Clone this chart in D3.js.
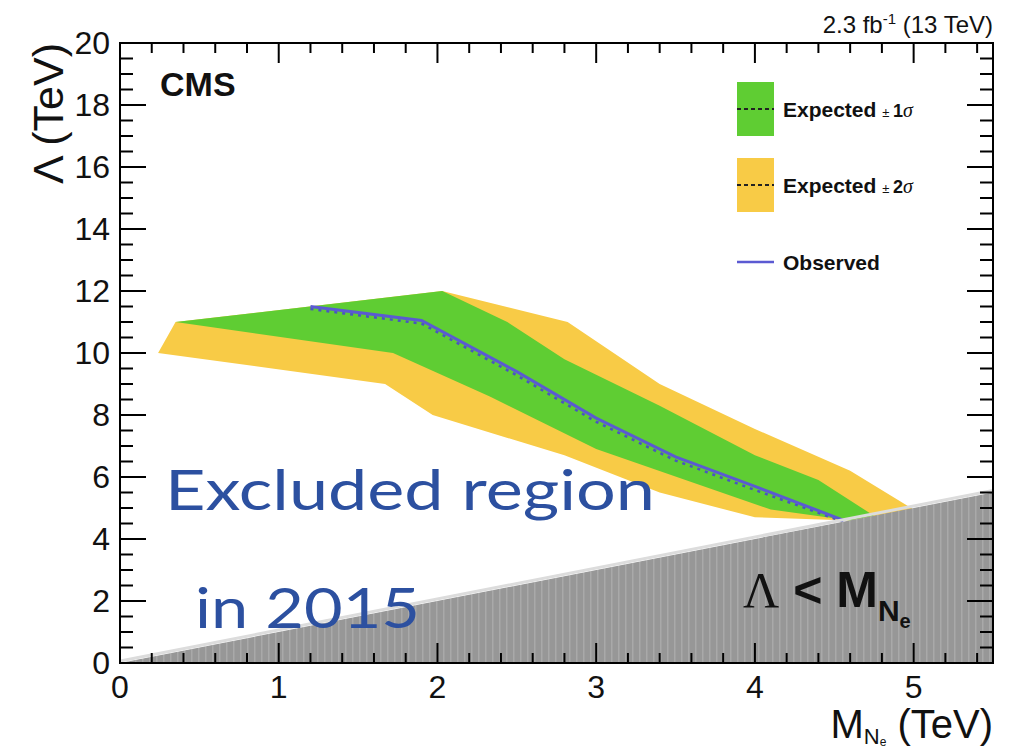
<!DOCTYPE html>
<html>
<head>
<meta charset="utf-8">
<style>
  body { margin: 0; background: white; }
  svg text { font-family: "Liberation Sans", Arial, sans-serif; }
  .frame { fill: none; stroke: black; stroke-width: 2; }
  .tick { stroke: black; stroke-width: 2; }
  .ticklab { font-size: 32px; fill: #111; }
  .leg { font-size: 21px; font-weight: bold; fill: #111; }
  .hand { font-family: "Lato", "Noto Sans", sans-serif; fill: #2c50a0; font-size: 56px; }
</style>
</head>
<body>
<div id="plot"></div>
<script src="https://cdn.jsdelivr.net/npm/d3@7"></script>
<script>

//////////////////// data ////////////////////
// expected +-2 sigma band (M_Ne, Lambda) in TeV
let band2Upper = [[0.35, 11.0], [2.03, 12.0], [2.82, 11.0], [3.4, 9.0], [4.0, 7.55], [4.6, 6.2], [5.0, 4.95]];
let band2Lower = [[0.24, 10.0], [1.67, 9.0], [1.97, 8.0], [2.8, 6.7], [3.4, 5.5], [4.0, 4.7], [4.6, 4.6]];
// expected +-1 sigma band
let band1Upper = [[0.35, 11.0], [2.03, 12.0], [2.44, 11.0], [2.8, 9.8], [3.4, 8.3], [4.0, 6.7], [4.4, 5.9], [4.75, 4.75]];
let band1Lower = [[0.35, 11.0], [1.72, 10.0], [2.33, 8.6], [3.0, 6.9], [4.1, 4.95], [4.6, 4.6]];
// limits
let massPoints = [1.2, 1.9, 2.5, 3.0, 3.5, 4.0, 4.56];
let observed = [11.5, 11.05, 9.4, 7.9, 6.65, 5.7, 4.6];
let expected = [11.42, 10.95, 9.28, 7.78, 6.53, 5.58, 4.55];

let xTicks = [0, 1, 2, 3, 4, 5];
let yTicks = [0, 2, 4, 6, 8, 10, 12, 14, 16, 18, 20];

//////////////////// layout ////////////////////
let W = 1012, H = 752;
let L = 120, R = 993, T = 43, B = 663;

let x = d3.scaleLinear().domain([0, 5.5]).range([L, R]);
let y = d3.scaleLinear().domain([0, 20]).range([B, T]);

let svg = d3.select('#plot').append('svg')
    .attr('width', W)
    .attr('height', H);

let defs = svg.append('defs');
defs.append('clipPath').attr('id', 'clip')
  .append('rect').attr('x', L).attr('y', T).attr('width', R - L).attr('height', B - T);

let stripes = defs.append('pattern')
    .attr('id', 'stripes')
    .attr('patternUnits', 'userSpaceOnUse')
    .attr('width', 7).attr('height', 10);
stripes.append('rect').attr('width', 7).attr('height', 10).attr('fill', '#979797');
stripes.append('rect').attr('x', 2).attr('width', 1.5).attr('height', 10).attr('fill', '#a9a9a9');

let area = svg.append('g').attr('clip-path', 'url(#clip)');
let line = d3.line().x(d => x(d[0])).y(d => y(d[1]));

function band(upper, lower) {
    return line(upper.concat(lower.slice().reverse())) + 'Z';
}

area.append('path').attr('d', band(band2Upper, band2Lower)).attr('fill', '#f8cb46');
area.append('path').attr('d', band(band1Upper, band1Lower)).attr('fill', '#5fcd33');

let expPts = massPoints.map((m, i) => [m, expected[i]]);
let obsPts = massPoints.map((m, i) => [m, observed[i]]);
area.append('path').attr('d', line(expPts))
    .attr('fill', 'none').attr('stroke', '#4a55c0').attr('stroke-width', 2.5)
    .attr('stroke-dasharray', '3,5');
area.append('path').attr('d', line(obsPts))
    .attr('fill', 'none').attr('stroke', '#5b5ad2').attr('stroke-width', 3);

// region Lambda < M
let diag = [[0, 0], [5.5, 5.5], [5.5, 0]];
area.append('path').attr('d', line(diag) + 'Z').attr('fill', 'url(#stripes)');
area.append('path').attr('d', line([[0, 0], [5.5, 5.5]]))
    .attr('transform', 'translate(0,-2)')
    .attr('fill', 'none').attr('stroke', '#dcdcdc').attr('stroke-width', 3);

//////////////////// axes ////////////////////
svg.append('rect').classed('frame', true)
    .attr('x', L).attr('y', T).attr('width', R - L).attr('height', B - T);

let xMinor = d3.range(0, 5.51, 0.2);
let yMinor = d3.range(0, 20.01, 0.5);

xMinor.forEach(v => {
    let major = Math.abs(v - Math.round(v)) < 1e-6;
    let len = major ? 20 : 10;
    svg.append('line').classed('tick', true)
        .attr('x1', x(v)).attr('x2', x(v)).attr('y1', B).attr('y2', B - len);
    svg.append('line').classed('tick', true)
        .attr('x1', x(v)).attr('x2', x(v)).attr('y1', T).attr('y2', T + len);
});
yMinor.forEach(v => {
    let major = Math.abs(v / 2 - Math.round(v / 2)) < 1e-6;
    let len = major ? 26 : 13;
    svg.append('line').classed('tick', true)
        .attr('x1', L).attr('x2', L + len).attr('y1', y(v)).attr('y2', y(v));
    svg.append('line').classed('tick', true)
        .attr('x1', R).attr('x2', R - len).attr('y1', y(v)).attr('y2', y(v));
});

xTicks.forEach(v => {
    svg.append('text').classed('ticklab', true)
        .attr('x', x(v)).attr('y', 698)
        .attr('text-anchor', 'middle')
        .text(v);
});
yTicks.forEach(v => {
    svg.append('text').classed('ticklab', true)
        .attr('x', 110).attr('y', y(v) + 11)
        .attr('text-anchor', 'end')
        .text(v);
});

// axis titles
let xt = svg.append('text').attr('x', R).attr('y', 738)
    .attr('text-anchor', 'end').attr('font-size', 40).attr('fill', '#111');
xt.append('tspan').text('M');
xt.append('tspan').attr('font-size', 22).attr('dy', 6).text('N');
xt.append('tspan').attr('font-size', 12).attr('dy', 2).text('e');
xt.append('tspan').attr('dy', -8).text(' (TeV)');

svg.append('text')
    .attr('transform', `translate(63, ${T}) rotate(-90)`)
    .attr('text-anchor', 'end').attr('font-size', 43).attr('fill', '#111')
    .text('Λ (TeV)');

// header
let hd = svg.append('text').attr('x', R).attr('y', 33)
    .attr('text-anchor', 'end').attr('font-size', 24).attr('fill', '#111');
hd.append('tspan').text('2.3 fb');
hd.append('tspan').attr('font-size', 15).attr('dy', -9).text('-1');
hd.append('tspan').attr('dy', 9).text(' (13 TeV)');

svg.append('text').attr('x', 160).attr('y', 96)
    .attr('font-size', 34).attr('font-weight', 'bold').attr('fill', '#111')
    .text('CMS');

//////////////////// legend ////////////////////
let legend = [
    { fill: '#5fcd33', label: '1', y: 109 },
    { fill: '#f8cb46', label: '2', y: 185 }
];
legend.forEach(d => {
    svg.append('rect').attr('x', 737).attr('y', d.y - 27).attr('width', 37).attr('height', 54)
        .attr('fill', d.fill);
    svg.append('line').attr('x1', 737).attr('x2', 774).attr('y1', d.y).attr('y2', d.y)
        .attr('stroke', '#222').attr('stroke-width', 2).attr('stroke-dasharray', '4,3');
    let t = svg.append('text').classed('leg', true).attr('x', 783).attr('y', d.y + 8);
    t.append('tspan').text('Expected ');
    t.append('tspan').attr('font-size', 13).attr('font-weight', 'normal').text(' ± ');
    t.append('tspan').attr('font-size', 18).text(d.label);
    t.append('tspan').attr('font-size', 20).attr('font-weight', 'normal')
        .attr('font-style', 'italic').attr('font-family', 'Liberation Serif, serif').text('σ');
});
svg.append('line').attr('x1', 737).attr('x2', 774).attr('y1', 262).attr('y2', 262)
    .attr('stroke', '#5b5ad2').attr('stroke-width', 2.5);
svg.append('text').classed('leg', true).attr('x', 783).attr('y', 270).text('Observed');

//////////////////// annotations ////////////////////
let lm = svg.append('text').attr('x', 743).attr('y', 607).attr('fill', '#111').attr('font-size', 50);
lm.append('tspan').attr('font-family', 'Liberation Serif, serif').text('Λ');
lm.append('tspan').attr('font-weight', 'bold').text(' < M');
lm.append('tspan').attr('font-weight', 'bold').attr('font-size', 30).attr('dy', 14).text('N');
lm.append('tspan').attr('font-weight', 'bold').attr('font-size', 20).attr('dy', 7).text('e');

svg.append('text').classed('hand', true)
    .attr('x', 165).attr('y', 510)
    .attr('textLength', 490).attr('lengthAdjust', 'spacingAndGlyphs')
    .text('Excluded region');
svg.append('text').classed('hand', true)
    .attr('x', 195).attr('y', 628)
    .attr('textLength', 225).attr('lengthAdjust', 'spacingAndGlyphs')
    .text('in 2015');

</script>
</body>
</html>
